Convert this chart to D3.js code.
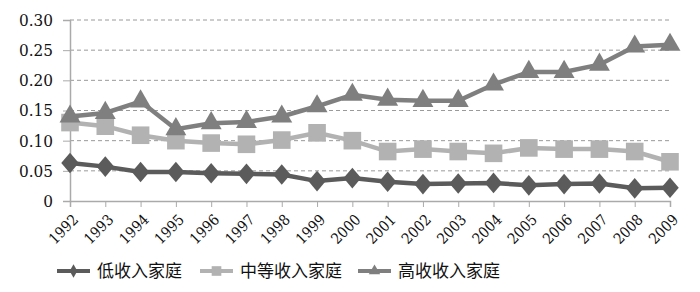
<!DOCTYPE html>
<html>
<head>
<meta charset="utf-8">
<script src="https://cdn.jsdelivr.net/npm/d3@7"></script>
<style>
  body { margin: 0; background: #fff; }
  .legend text { font-family: "Noto Sans CJK SC", sans-serif; fill: #111; }
</style>
</head>
<body>
<div id="chart"></div>
<script>
// data
const years = ["1992","1993","1994","1995","1996","1997","1998","1999","2000",
  "2001","2002","2003","2004","2005","2006","2007","2008","2009"];
const lowIncome = [0.063, 0.057, 0.048, 0.048, 0.046, 0.045, 0.044, 0.033, 0.038,
  0.032, 0.028, 0.029, 0.030, 0.026, 0.028, 0.029, 0.021, 0.022];
const midIncome = [0.130, 0.124, 0.109, 0.100, 0.096, 0.094, 0.101, 0.113, 0.100,
  0.082, 0.086, 0.082, 0.079, 0.088, 0.086, 0.086, 0.082, 0.065];
const highIncome = [0.140, 0.146, 0.165, 0.119, 0.129, 0.131, 0.140, 0.157, 0.176,
  0.168, 0.166, 0.166, 0.193, 0.214, 0.214, 0.226, 0.256, 0.259];
const seriesNames = ["低收入家庭", "中等收入家庭", "高收收入家庭"];
const yTicks = [0, 0.05, 0.10, 0.15, 0.20, 0.25, 0.30];

const serif = "'DejaVu Serif Condensed', 'DejaVu Serif', serif";
const width = 700, height = 292;
const margin = { top: 20, right: 30, bottom: 91, left: 70 };

const svg = d3.select("#chart").append("svg")
  .attr("width", width)
  .attr("height", height);

const xScale = d3.scalePoint()
  .domain(years)
  .range([margin.left, width - margin.right]);

const yScale = d3.scaleLinear()
  .domain([0, 0.30])
  .range([height - margin.bottom, margin.top]);

// dashed gridlines
svg.append("g")
  .selectAll("line")
  .data(yTicks.filter(d => d > 0))
  .enter()
  .append("line")
  .attr("x1", margin.left)
  .attr("x2", width - margin.right)
  .attr("y1", d => yScale(d))
  .attr("y2", d => yScale(d))
  .attr("stroke", "#9a9a9a")
  .attr("stroke-width", 1)
  .attr("stroke-dasharray", "4,3");

// y axis
const yAxis = svg.append("g")
  .attr("transform", `translate(${margin.left},0)`)
  .call(d3.axisLeft(yScale).tickValues(yTicks).tickSize(7)
    .tickFormat(d => d === 0 ? "0" : d3.format(".2f")(d)));
yAxis.select(".domain").attr("stroke", "#aaa").attr("stroke-width", 1.5);
yAxis.selectAll(".tick line").attr("stroke", "#aaa");
yAxis.selectAll("text")
  .attr("x", -17)
  .attr("fill", "#111")
  .style("font-family", serif)
  .style("font-size", "17px");

// x axis
const xAxis = svg.append("g")
  .attr("transform", `translate(0,${height - margin.bottom})`)
  .call(d3.axisBottom(xScale).tickSize(6));
xAxis.select(".domain").attr("stroke", "#aaa").attr("stroke-width", 1.5);
xAxis.selectAll(".tick line").attr("stroke", "#aaa");
xAxis.selectAll("text")
  .attr("fill", "#111")
  .style("font-family", serif)
  .style("font-size", "15px")
  .style("text-anchor", "end")
  .attr("y", 0)
  .attr("dy", "0.35em")
  .attr("transform", "translate(5,16) rotate(-45)");

const series = [
  { name: seriesNames[0], values: lowIncome, color: "#5b5b5b", shape: d3.symbolDiamond, size: 170 },
  { name: seriesNames[1], values: midIncome, color: "#b2b2b2", shape: d3.symbolSquare, size: 310 },
  { name: seriesNames[2], values: highIncome, color: "#7f7f7f", shape: d3.symbolTriangle, size: 190 }
];

const line = d3.line()
  .x((d, i) => xScale(years[i]))
  .y(d => yScale(d));

series.forEach(s => {
  svg.append("path")
    .datum(s.values)
    .attr("fill", "none")
    .attr("stroke", s.color)
    .attr("stroke-width", 4.5)
    .attr("d", line);

  svg.append("g")
    .selectAll("path")
    .data(s.values)
    .enter()
    .append("path")
    .attr("d", d3.symbol().type(s.shape).size(s.size))
    .attr("fill", s.color)
    .attr("transform", (d, i) => s.shape === d3.symbolDiamond
      ? `translate(${xScale(years[i])},${yScale(d)}) scale(1.25,0.85)`
      : `translate(${xScale(years[i])},${yScale(d)})`);
});

// legend
const legendX = [57, 200, 358];
const legend = svg.append("g")
  .attr("class", "legend")
  .selectAll("g")
  .data(series)
  .enter()
  .append("g")
  .attr("transform", (d, i) => `translate(${legendX[i]},271)`);

legend.append("line")
  .attr("x1", 0).attr("x2", 33)
  .attr("stroke", d => d.color)
  .attr("stroke-width", 4);

legend.append("path")
  .attr("d", d => d3.symbol().type(d.shape).size(d.size * 0.3)())
  .attr("transform", "translate(16.5,0)")
  .attr("fill", d => d.color);

legend.append("text")
  .attr("x", 40)
  .attr("y", 6)
  .style("font-size", "17px")
  .text(d => d.name);
</script>
</body>
</html>
